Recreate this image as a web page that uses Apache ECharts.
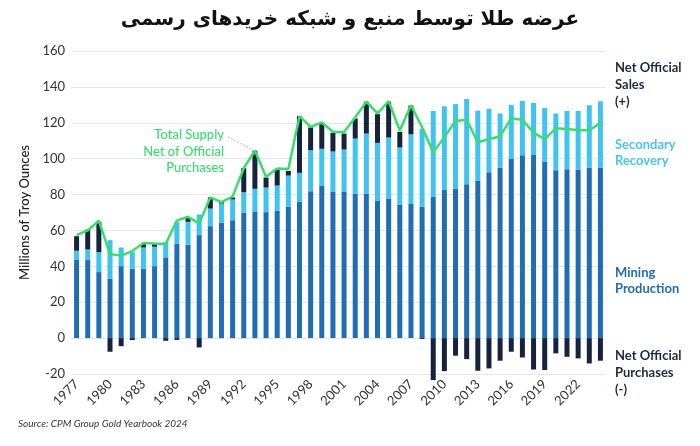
<!DOCTYPE html>
<html lang="en">
<head>
    <meta charset="UTF-8">
    <title>Gold supply</title>
    <script src="https://cdn.jsdelivr.net/npm/echarts@6/dist/echarts.min.js"></script>
    <style>
        body { margin: 0; background: #fff; }
    </style>
</head>
<body>
<div id="main" style="width: 700px;height: 446px;"></div>

<script type="text/javascript">
    var years = ['1977', '1978', '1979', '1980', '1981', '1982', '1983', '1984', '1985', '1986',
        '1987', '1988', '1989', '1990', '1991', '1992', '1993', '1994', '1995', '1996',
        '1997', '1998', '1999', '2000', '2001', '2002', '2003', '2004', '2005', '2006',
        '2007', '2008', '2009', '2010', '2011', '2012', '2013', '2014', '2015', '2016',
        '2017', '2018', '2019', '2020', '2021', '2022', '2023', '2024'];

    // millions of troy ounces
    var mining = [43.8, 43.5, 36.8, 33, 40.1, 38.6, 38.6, 40.1, 45, 52.7,
        52, 57.4, 62.4, 64.3, 65.7, 69.8, 70.6, 70.2, 70.9, 73.2,
        76.1, 81.9, 85, 81.5, 81.5, 80.6, 80.6, 76.5, 77.8, 74.5,
        74.7, 73.2, 78.7, 82.8, 83.2, 85.8, 87.6, 92.5, 95.1, 100.1,
        101.9, 102, 98.2, 93.6, 94.1, 94, 94.9, 94.9];

    var secondary = [4.9, 5.9, 11.1, 21.6, 10.4, 9.3, 11.9, 10.8, 8.5, 12.1,
        12.8, 11.5, 9.8, 10.7, 11.6, 11.5, 12.6, 13.7, 14.1, 17.4,
        16, 22.8, 20.5, 22.5, 23.6, 30.6, 33.4, 32.3, 34, 31.7,
        38.9, 43.5, 47.9, 46.4, 47.2, 47.5, 39.2, 35.3, 30.1, 29.9,
        30.3, 29.1, 30.1, 31.6, 32.5, 32.6, 34.9, 37.1];

    // positive = net official sales, negative = net official purchases
    var official = [8.1, 11.1, 16.9, -7.6, -4.5, -1.1, 1.9, 1.5, -1.5, -1,
        2.4, -5.2, 6.2, 1.1, 1.1, 13.4, 21.2, 5.6, 9, 2.6,
        31.6, 12.7, 13.7, 10.4, 8.9, 11.2, 17.7, 16, 19.9, 8.8,
        16, -0.5, -23.4, -18.4, -9.8, -11.7, -18.2, -16.9, -12.6, -7.6,
        -10.8, -17.5, -17.8, -8.5, -10.4, -11.3, -14.1, -12.6];

    var totalNet = [57.4, 60, 65.4, 46.8, 46, 48.5, 53, 52.7, 52.5, 65.5,
        67.6, 63.9, 78.4, 75.8, 79, 94.7, 104.4, 89.9, 94.5, 94.3,
        123.7, 117.7, 120.2, 115, 114.8, 122.9, 131.8, 125.3, 132, 115.7,
        129.8, 117.5, 103.5, 112, 121, 121.7, 109, 111, 112.4, 122.6,
        121.6, 114.5, 110.8, 117, 116.6, 115.8, 115.8, 119.8];

    var yTicks = [-20, 0, 20, 40, 60, 80, 100, 120, 140, 160];

    var cMining = '#1f6db3';
    var cSecondary = '#3fc3f1';
    var cOfficial = '#15233d';
    var cLine = '#39dd6c';
    var font = 'Lato, "Open Sans", sans-serif';

    var myChart = echarts.init(document.getElementById('main'));

    var option = {
        animation: false,
        backgroundColor: '#fff',
        title: {
            text: 'عرضه طلا توسط منبع و شبکه خریدهای رسمی',
            left: 'center',
            top: 5,
            textStyle: {
                fontFamily: '"DejaVu Sans", sans-serif',
                fontSize: 20,
                fontWeight: 'bold',
                color: '#111'
            }
        },
        grid: {
            left: 71,
            right: 94,
            top: 51,
            bottom: 72
        },
        xAxis: {
            type: 'category',
            data: years,
            axisLine: {show: false, onZero: false},
            axisTick: {show: false},
            axisLabel: {
                interval: 2,
                rotate: 45,
                margin: 8,
                fontFamily: font,
                fontSize: 13,
                color: '#333'
            }
        },
        yAxis: {
            type: 'value',
            min: yTicks[0],
            max: yTicks[yTicks.length - 1],
            interval: 20,
            name: 'Millions of Troy Ounces',
            nameLocation: 'middle',
            nameGap: 40,
            nameTextStyle: {
                fontFamily: font,
                fontSize: 13,
                fontWeight: 500,
                color: '#222'
            },
            axisLabel: {
                margin: 6,
                fontFamily: font,
                fontSize: 13,
                color: '#333'
            },
            splitLine: {
                lineStyle: {color: '#e6e6e6', width: 1}
            }
        },
        series: [
            {
                name: 'Mining Production',
                type: 'bar',
                stack: 'supply',
                barWidth: 5,
                clip: false,
                itemStyle: {color: cMining},
                data: mining
            },
            {
                name: 'Secondary Recovery',
                type: 'bar',
                stack: 'supply',
                barWidth: 5,
                clip: false,
                itemStyle: {color: cSecondary},
                data: secondary
            },
            {
                name: 'Net Official',
                type: 'bar',
                stack: 'supply',
                barWidth: 5,
                clip: false,
                itemStyle: {color: cOfficial},
                data: official
            },
            {
                name: 'Total Supply Net of Official Purchases',
                type: 'line',
                symbol: 'none',
                z: 5,
                lineStyle: {color: cLine, width: 2.5},
                data: totalNet
            }
        ],
        graphic: [
            {
                type: 'text', left: 18, top: 419,
                style: {text: 'Source: CPM Group Gold Yearbook 2024', fontFamily: font, fontSize: 10, fontStyle: 'italic', fill: '#333'}
            },
            {
                type: 'text', x: 224, y: 127,
                style: {text: 'Total Supply\nNet of Official\nPurchases', align: 'right', verticalAlign: 'top', lineHeight: 16.5, fontFamily: font, fontSize: 13, fontWeight: 500, fill: cLine}
            },
            {
                type: 'line',
                shape: {x1: 228, y1: 137, x2: 253, y2: 150},
                style: {stroke: '#9aa', lineWidth: 1, lineDash: [1.5, 2]}
            },
            {
                type: 'text', left: 615, top: 59,
                style: {text: 'Net Official\nSales\n(+)', lineHeight: 17, fontFamily: font, fontSize: 13, fontWeight: 'bold', fill: '#1b2a44'}
            },
            {
                type: 'text', left: 615, top: 137,
                style: {text: 'Secondary\nRecovery', lineHeight: 16, fontFamily: font, fontSize: 13, fontWeight: 'bold', fill: '#4cc4ee'}
            },
            {
                type: 'text', left: 615, top: 265,
                style: {text: 'Mining\nProduction', lineHeight: 16, fontFamily: font, fontSize: 13, fontWeight: 'bold', fill: '#1f6db3'}
            },
            {
                type: 'text', left: 615, top: 347,
                style: {text: 'Net Official\nPurchases\n(-)', lineHeight: 17, fontFamily: font, fontSize: 13, fontWeight: 'bold', fill: '#1b2a44'}
            }
        ]
    };

    myChart.setOption(option);
</script>

</body>
</html>
